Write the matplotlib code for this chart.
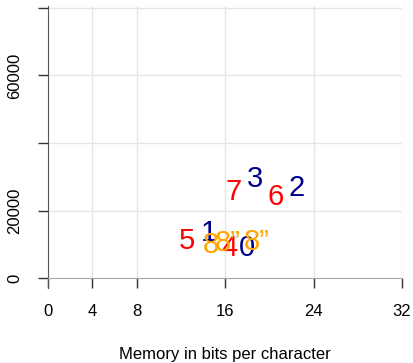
import matplotlib.pyplot as plt

plt.rcParams['font.family'] = ['Liberation Sans', 'DejaVu Sans']

# memory (bits/char) vs. second value, one label per method
labels = ['1', '2', '3', '0', '4', '5', '6', '7', '8', '8”', '8”']
mem = [14.5, 22.5, 18.7, 18.0, 16.4, 12.6, 20.6, 16.8, 14.7, 16.2, 18.9]
vals = [13300, 26600, 29300, 8900, 8900, 10900, 23900, 25400, 9800, 10400, 10700]
colors = ['#00008B', '#00008B', '#00008B', '#00008B', '#FF0000', '#FF0000',
          '#FF0000', '#FF0000', '#FFA500', '#FFA500', '#FFA500']

xticks = [0, 4, 8, 16, 24, 32]
yticks = [0, 20000, 40000, 60000, 80000]
ytick_labels = ['0', '20000', '', '60000', '']

fig = plt.figure(figsize=(4.13, 3.63), dpi=100)
ax = fig.add_axes([48 / 413, 75 / 363, 354 / 413, 282 / 363])

ax.set_xlim(0, 32)
ax.set_ylim(-2960, 80590)

for x in xticks[1:]:
    ax.axvline(x, color='#e6e6e6', lw=1, zorder=0)
for y in yticks[1:]:
    ax.axhline(y, color='#e6e6e6', lw=1, zorder=0)

for lab, x, y, c in zip(labels, mem, vals, colors):
    ax.text(x, y, lab, color=c, fontsize=21, ha='center', va='center')

ax.spines['top'].set_visible(False)
ax.spines['right'].set_visible(False)
ax.spines['bottom'].set_position(('data', 0))
ax.spines['bottom'].set_color('#a8a8a8')
ax.spines['left'].set_color('#555555')

ax.set_xticks(xticks)
ax.set_yticks(yticks)
ax.set_yticklabels(ytick_labels, rotation=90, va='center')
ax.tick_params(axis='both', length=7.5, width=1, color='#333333',
               labelsize=12, pad=11)

ax.set_xlabel('Memory in bits per character', fontsize=12, labelpad=20.5)

fig.savefig('out.png', dpi=100)
